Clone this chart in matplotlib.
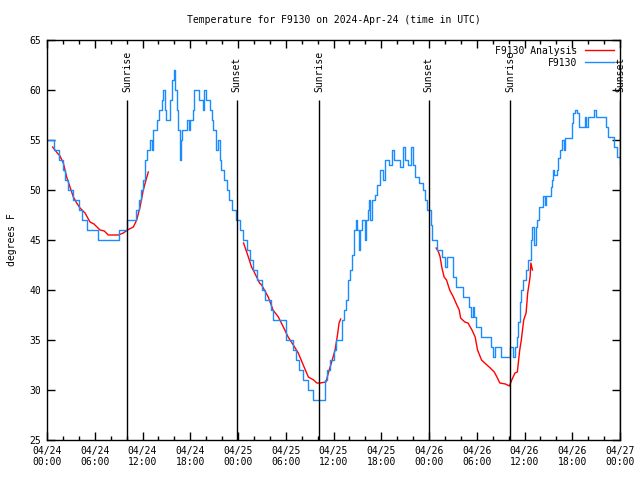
import matplotlib
matplotlib.use("Agg")
import matplotlib.pyplot as plt
import numpy as np

# hours since 2024-04-24 00:00 UTC
obs_hours = [0.0, 0.85, 1.5, 2.05, 2.26, 2.68, 3.31, 4.06, 4.36, 5.0, 6.45, 9.1, 10.0,
             11.2, 11.5, 11.8, 12.0, 12.3, 12.6, 12.94, 13.15, 13.36, 13.78, 14.1, 14.4,
             14.62, 14.83, 15.0, 15.45, 15.75, 15.96, 16.13, 16.29, 16.46, 16.71, 16.88,
             17.0, 17.55, 17.8, 17.95, 18.3, 18.5, 19.15, 19.55, 19.75, 20.0, 20.45, 20.7,
             20.9, 21.2, 21.45, 21.7, 21.9, 22.2, 22.6, 22.9, 23.3, 23.7, 24.3, 24.6, 25.1,
             25.5, 25.9, 26.35, 26.97, 27.4, 28.2, 28.4, 30.0, 30.9, 31.3, 31.7, 32.2, 32.8,
             33.45, 34.9, 35.2, 35.6, 36.1, 36.35, 37.1, 37.35, 37.6, 37.85, 38.05, 38.35,
             38.6, 38.8, 38.95, 39.15, 39.35, 39.6, 39.9, 40.1, 40.3, 40.45, 40.6, 40.85,
             41.2, 41.5, 41.8, 42.2, 42.5, 43.0, 43.3, 43.6, 44.3, 44.7, 45.0, 45.3, 45.7,
             45.95, 46.3, 46.8, 47.2, 47.5, 47.75, 48.2, 48.4, 49.0, 49.6, 50.05, 50.2, 51.0,
             51.4, 52.25, 53.0, 53.3, 53.5, 53.65, 53.9, 54.55, 55.85, 56.05, 56.25, 57.05,
             58.15, 58.55, 58.75, 59.0, 59.2, 59.4, 59.6, 59.85, 60.15, 60.45, 60.85, 61.0,
             61.15, 61.45, 61.6, 61.85, 62.3, 62.55, 62.75, 63.3, 63.4, 63.55, 63.7, 64.05,
             64.2, 64.4, 64.75, 64.95, 65.15, 65.95, 66.15, 66.35, 66.65, 66.85, 67.55, 67.75,
             67.95, 68.75, 68.95, 70.3, 70.55, 71.2, 71.6, 72.0]
obs_temps = [55, 54, 53, 52, 51, 50, 49, 48, 47, 46, 45, 46, 47,
             48, 49, 50, 51, 53, 54, 55, 54, 56, 57, 58, 59,
             60, 58, 57, 59, 61, 62, 60, 58, 56, 53, 55,
             56, 57, 56, 57, 58, 60, 59, 58, 60, 59, 58, 57,
             56, 54, 55, 53, 52, 51, 50, 49, 48, 47, 46, 45, 44,
             43, 42, 41, 40, 39, 38, 37, 35, 34, 33, 32, 31, 30,
             29, 31, 32, 33, 34, 35, 37, 38, 39, 41, 42, 43.5,
             46, 47, 46, 44, 46, 47, 45, 47, 48, 49, 47, 49,
             49.5, 50.5, 52, 51, 53, 52.5, 54, 53, 52.3, 54.3, 53, 52.5, 54.3,
             52.5, 51.3, 50.7, 50, 49, 48, 46.5, 45, 44, 43.3, 42.3, 43.3, 41.3,
             40.3, 39.3, 38.3, 37.3, 38.3, 37.3, 36.3, 35.3, 34.3, 33.3, 34.3, 33.3,
             34.3, 33.3, 34.3, 35.3, 36.8, 38.8, 40, 41, 42, 43, 45, 46.3,
             44.5, 46.3, 47, 48.3, 49.4, 48.5, 49.4, 50.3, 51, 52, 51.5, 52,
             53.2, 54, 55, 54, 55.2, 56.7, 57.7, 58, 57.7, 56.3, 57.3, 56.3,
             57.3, 58, 57.3, 56.3, 55.3, 54.3, 53.3, 52.5]

# analysis, three separate runs
ana1_hours = [0.71, 1.0, 1.4, 1.63, 2.05, 2.47, 2.89, 3.31, 3.73, 4.15, 4.78, 5.4, 5.9,
              6.66, 7.2, 7.7, 8.96, 9.59, 10.1, 10.85, 11.27, 11.69, 12.1, 12.44, 12.73]
ana1_temps = [54.3, 54.0, 53.6, 53.4, 52.7, 51.3, 50.3, 49.3, 48.7, 48.2, 47.7, 46.8, 46.6,
              46.0, 45.9, 45.5, 45.5, 45.7, 46.0, 46.3, 47.0, 48.3, 50.0, 51.0, 51.8]
ana2_hours = [24.7, 25.3, 25.7, 26.1, 26.7, 26.97, 27.8, 28.4, 29.07, 29.7, 30.3, 30.95,
              31.57, 32.2, 32.84, 33.5, 33.9, 34.3, 35.06, 35.35, 35.77, 36.2, 36.5, 36.7, 36.9]
ana2_temps = [44.7, 43.3, 42.3, 41.7, 40.7, 40.5, 39.3, 38.0, 37.3, 36.3, 35.3, 34.5,
              33.7, 32.5, 31.3, 31.0, 30.7, 30.7, 30.8, 31.7, 32.8, 34.0, 35.5, 36.7, 37.1]
ana3_hours = [48.9, 49.2, 49.4, 49.6, 49.9, 50.2, 50.6, 51.06, 51.5, 51.8, 51.97, 52.5,
              52.9, 53.4, 53.8, 54.1, 54.6, 55.0, 55.7, 56.2, 56.6, 56.9, 57.6, 58.1, 58.4,
              58.8, 59.1, 59.4, 59.6, 59.9, 60.2, 60.4, 60.7, 60.8, 61.0]
ana3_temps = [44.2, 43.8, 43.3, 42.3, 41.3, 41.0, 40.0, 39.3, 38.5, 38.0, 37.2, 36.8,
              36.7, 36.0, 35.3, 34.0, 33.0, 32.7, 32.2, 31.8, 31.2, 30.7, 30.6, 30.4, 31.0,
              31.7, 31.8, 34.0, 35.0, 37.0, 37.7, 39.7, 41.3, 42.7, 42.0]

sun_hours = [10.1, 23.84, 34.2, 47.96, 58.2, 72.0]
sun_labels = ['Sunrise', 'Sunset', 'Sunrise', 'Sunset', 'Sunrise', 'Sunset']

tick_hours = list(range(0, 73, 6))
tick_labels = ['04/24\n00:00', '04/24\n06:00', '04/24\n12:00', '04/24\n18:00',
               '04/25\n00:00', '04/25\n06:00', '04/25\n12:00', '04/25\n18:00',
               '04/26\n00:00', '04/26\n06:00', '04/26\n12:00', '04/26\n18:00',
               '04/27\n00:00']

plt.rcParams['font.family'] = ['DejaVu Sans Mono']
plt.rcParams['font.size'] = 7

fig = plt.figure(figsize=(6.4, 4.8), dpi=100)
ax = fig.add_axes([47 / 640, 40 / 480, 573 / 640, 400 / 480])

red = '#ff0000'
blue = '#1a8cff'

ax.plot(ana1_hours, ana1_temps, color=red, lw=1, label='F9130 Analysis')
ax.plot(ana2_hours, ana2_temps, color=red, lw=1)
ax.plot(ana3_hours, ana3_temps, color=red, lw=1)
ax.plot(obs_hours, obs_temps, color=blue, lw=1, drawstyle='steps-post', label='F9130')

for h, lab in zip(sun_hours, sun_labels):
    ax.vlines(h, 25, 59, color='black', lw=1)
    ax.text(h, 59.8, lab, rotation=90, ha='center', va='bottom')

ax.set_xlim(0, 72)
ax.set_ylim(25, 65)
ax.set_xticks(tick_hours)
ax.set_xticklabels(tick_labels)
ax.set_xticks(range(0, 73, 2), minor=True)
ax.set_yticks(range(25, 66, 5))
ax.tick_params(which='both', direction='in', top=True, right=True, width=1)
ax.tick_params(which='major', length=6, pad=4)
ax.tick_params(which='minor', length=3)
for s in ax.spines.values():
    s.set_linewidth(1)

ax.legend(loc='upper right', frameon=False, markerfirst=False, handlelength=3.0,
          borderaxespad=0.2, labelspacing=0.2, handletextpad=0.8)

# title centred over the plot area, as in the original
fig.text(333.5 / 640, 1 - 20 / 480, 'Temperature for F9130 on 2024-Apr-24 (time in UTC)',
         ha='center', va='center')
fig.text(12 / 640, 0.5, 'degrees F', rotation=90, ha='center', va='center')

fig.savefig('out.png', dpi=100)
